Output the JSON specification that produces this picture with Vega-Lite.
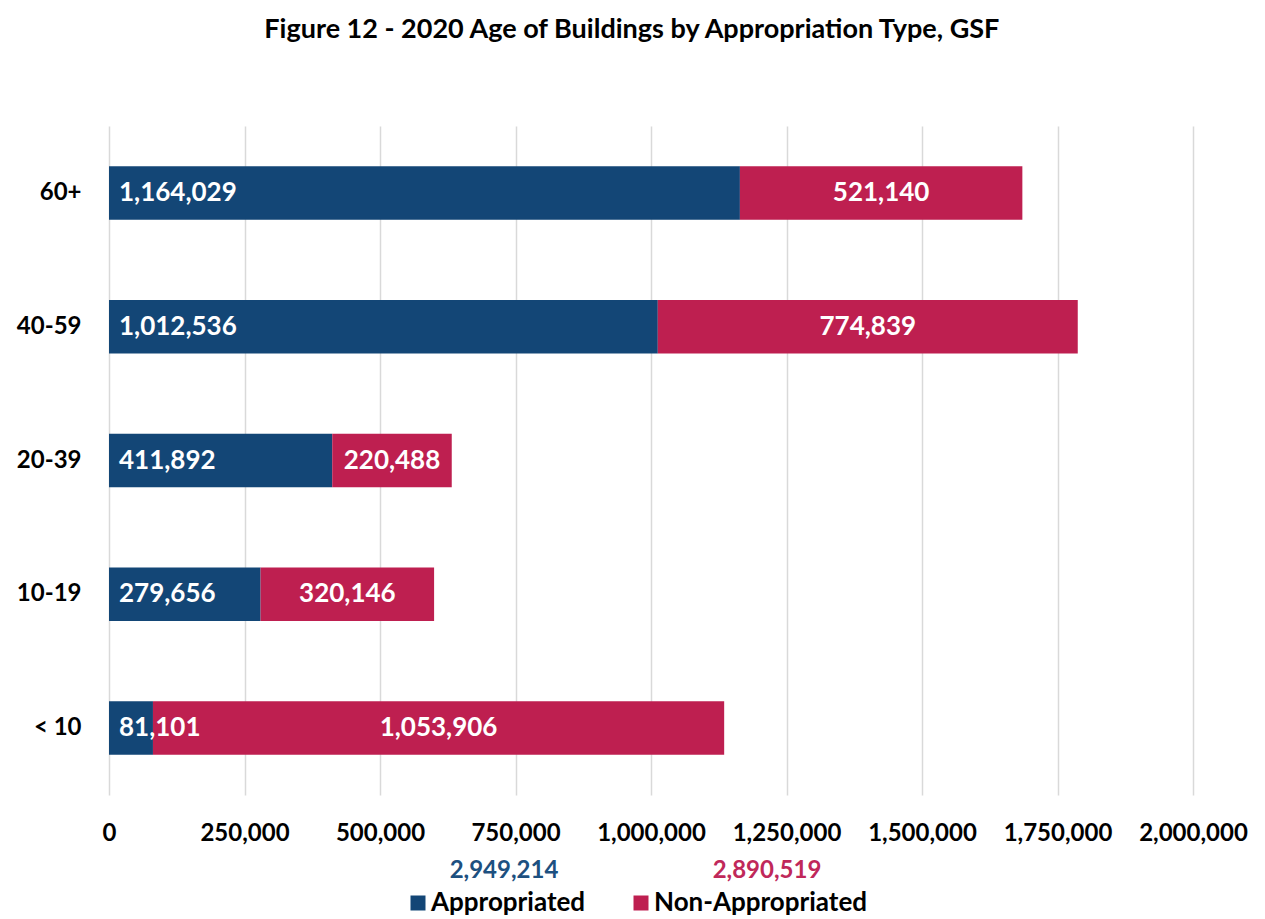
{
  "$schema": "https://vega.github.io/schema/vega-lite/v6.json",
  "padding": {"left": 16, "top": 16, "right": 5, "bottom": 5},
  "background": "white",
  "title": {"text": "Figure 12 - 2020 Age of Buildings by Appropriation Type, GSF", "font": "Lato", "fontSize": 27, "fontWeight": "bold", "color": "#000000", "anchor": "middle", "offset": 82},
  "config": {"view": {"stroke": null}, "font": "Lato"},
  "spacing": 14,
  "vconcat": [
    {
      "width": 1084,
      "height": 669,
      "data": {"values": [
        {"age": "60+", "type": "Appropriated", "value": 1164029},
        {"age": "60+", "type": "Non-Appropriated", "value": 521140},
        {"age": "40-59", "type": "Appropriated", "value": 1012536},
        {"age": "40-59", "type": "Non-Appropriated", "value": 774839},
        {"age": "20-39", "type": "Appropriated", "value": 411892},
        {"age": "20-39", "type": "Non-Appropriated", "value": 220488},
        {"age": "10-19", "type": "Appropriated", "value": 279656},
        {"age": "10-19", "type": "Non-Appropriated", "value": 320146},
        {"age": "< 10", "type": "Appropriated", "value": 81101},
        {"age": "< 10", "type": "Non-Appropriated", "value": 1053906}
      ]},
      "encoding": {
        "y": {"field": "age", "type": "nominal", "sort": ["60+", "40-59", "20-39", "10-19", "< 10"],
          "scale": {"paddingInner": 0.6, "paddingOuter": 0.3},
          "axis": {"title": null, "ticks": false, "domain": false, "labelFontSize": 24, "labelFontWeight": "bold", "labelColor": "#000000", "labelPadding": 28, "labelFont": "Lato"}}
      },
      "layer": [
        {
          "mark": {"type": "bar"},
          "encoding": {
            "x": {"field": "value", "type": "quantitative", "stack": "zero",
              "scale": {"domain": [0, 2000000], "nice": false},
              "axis": {"title": null, "values": [0, 250000, 500000, 750000, 1000000, 1250000, 1500000, 1750000, 2000000], "format": ",d", "grid": true, "gridColor": "#D9D9D9", "gridWidth": 1.5, "ticks": false, "domain": false, "labelFontSize": 24, "labelFontWeight": "bold", "labelColor": "#000000", "labelPadding": 26, "labelFlush": false, "labelOverlap": false, "labelFont": "Lato"}},
            "color": {"field": "type", "type": "nominal", "scale": {"domain": ["Appropriated", "Non-Appropriated"], "range": ["#134676", "#BE1F50"]}, "legend": null},
            "order": {"field": "type", "sort": "ascending"}
          }
        },
        {
          "mark": {"type": "text", "align": "left", "dx": 10, "color": "white", "fontSize": 26, "fontWeight": "bold", "font": "Lato"},
          "encoding": {
            "x": {"field": "value", "type": "quantitative", "stack": "zero", "bandPosition": 0,
              "axis": {"title": null, "values": [0, 250000, 500000, 750000, 1000000, 1250000, 1500000, 1750000, 2000000], "format": ",d", "grid": true, "gridColor": "#D9D9D9", "gridWidth": 1.5, "ticks": false, "domain": false, "labelFontSize": 24, "labelFontWeight": "bold", "labelColor": "#000000", "labelPadding": 26, "labelFlush": false, "labelOverlap": false, "labelFont": "Lato"}},
            "detail": {"field": "type"},
            "order": {"field": "type", "sort": "ascending"},
            "text": {"condition": {"test": "datum.type !== 'Appropriated'", "value": ""}, "field": "value", "type": "quantitative", "format": ","}
          }
        },
        {
          "mark": {"type": "text", "align": "center", "color": "white", "fontSize": 26, "fontWeight": "bold", "font": "Lato"},
          "encoding": {
            "x": {"field": "value", "type": "quantitative", "stack": "zero", "bandPosition": 0.5,
              "axis": {"title": null, "values": [0, 250000, 500000, 750000, 1000000, 1250000, 1500000, 1750000, 2000000], "format": ",d", "grid": true, "gridColor": "#D9D9D9", "gridWidth": 1.5, "ticks": false, "domain": false, "labelFontSize": 24, "labelFontWeight": "bold", "labelColor": "#000000", "labelPadding": 26, "labelFlush": false, "labelOverlap": false, "labelFont": "Lato"}},
            "detail": {"field": "type"},
            "order": {"field": "type", "sort": "ascending"},
            "text": {"condition": {"test": "datum.type === 'Appropriated'", "value": ""}, "field": "value", "type": "quantitative", "format": ","}
          }
        }
      ]
    },
    {
      "width": 669,
      "height": 50,
      "data": {"values": [
        {"type": "Appropriated", "total": 2949214},
        {"type": "Non-Appropriated", "total": 2890519}
      ]},
      "encoding": {
        "x": {"field": "type", "type": "nominal", "scale": {"type": "point", "padding": 1, "domain": ["Appropriated", "Non-Appropriated"]}, "axis": null}
      },
      "layer": [
        {
          "mark": {"type": "point", "shape": "square", "filled": true, "size": 225, "opacity": 1, "xOffset": 86, "yOffset": 16},
          "encoding": {"color": {"field": "type", "type": "nominal", "scale": {"domain": ["Appropriated", "Non-Appropriated"], "range": ["#134676", "#BE1F50"]}, "legend": null}}
        },
        {
          "mark": {"type": "text", "align": "left", "dx": 99, "dy": 16, "fontSize": 26, "fontWeight": "bold", "color": "#000000", "font": "Lato"},
          "encoding": {"text": {"field": "type"}}
        },
        {
          "transform": [{"filter": "datum.type === 'Appropriated'"}],
          "mark": {"type": "text", "align": "center", "dx": 172, "dy": -16, "fontSize": 24, "fontWeight": "bold", "color": "#1D5080", "font": "Lato"},
          "encoding": {"text": {"field": "total", "type": "quantitative", "format": ","}}
        },
        {
          "transform": [{"filter": "datum.type === 'Non-Appropriated'"}],
          "mark": {"type": "text", "align": "center", "dx": 212, "dy": -16, "fontSize": 24, "fontWeight": "bold", "color": "#C0285A", "font": "Lato"},
          "encoding": {"text": {"field": "total", "type": "quantitative", "format": ","}}
        }
      ]
    }
  ]
}
